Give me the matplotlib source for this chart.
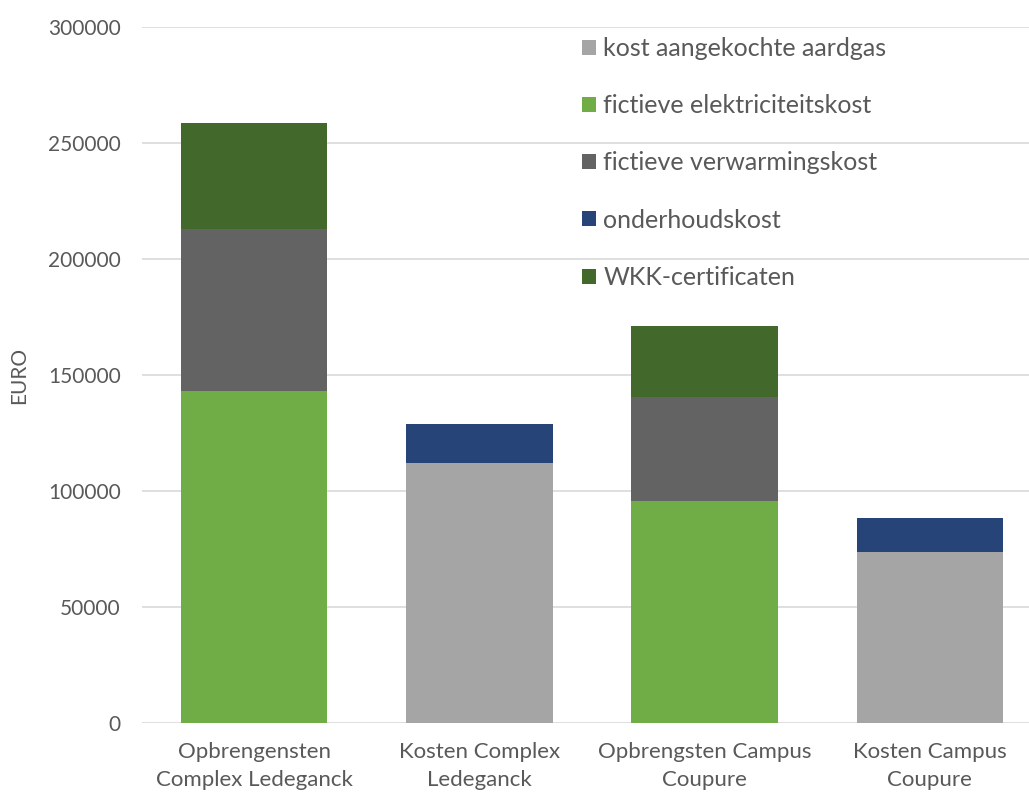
import matplotlib.pyplot as plt
import numpy as np

plt.rcParams['font.family'] = ['Lato', 'DejaVu Sans']

# Data
categories = ['Opbrengensten\nComplex Ledeganck', 'Kosten Complex\nLedeganck',
              'Opbrengsten Campus\nCoupure', 'Kosten Campus\nCoupure']
aardgas = [0, 112000, 0, 73500]
elektriciteit = [143000, 0, 95500, 0]
verwarming = [70000, 0, 45000, 0]
onderhoud = [0, 17000, 0, 15000]
wkk = [45500, 0, 30500, 0]
y_ticks = [0, 50000, 100000, 150000, 200000, 250000, 300000]

series = [
    ('kost aangekochte aardgas', aardgas, '#A5A5A5'),
    ('fictieve elektriciteitskost', elektriciteit, '#70AD47'),
    ('fictieve verwarmingskost', verwarming, '#636363'),
    ('onderhoudskost', onderhoud, '#264478'),
    ('WKK-certificaten', wkk, '#43682B'),
]

txt = '#595959'
fig = plt.figure(figsize=(10.29, 7.94), dpi=100)
ax = fig.add_axes([141.5 / 1029, (794 - 723) / 794, 901 / 1029, 696 / 794])

x = np.arange(len(categories))
bottom = np.zeros(len(categories))
for name, vals, col in series:
    ax.bar(x, vals, 0.65, bottom=bottom, color=col, label=name, zorder=3)
    bottom += np.array(vals)

ax.set_xlim(-0.5, 3.5)
ax.set_ylim(0, 300000)
ax.set_yticks(y_ticks)
ax.set_yticklabels([str(v) for v in y_ticks], fontsize=15, color=txt)
ax.set_xticks(x)
ax.set_xticklabels(categories, fontsize=16, color=txt, linespacing=1.45)
ax.tick_params(length=0)
ax.tick_params(axis='y', pad=15)
ax.tick_params(axis='x', pad=14)
ax.grid(axis='y', color='#D9D9D9', linewidth=1.2, zorder=0)
for s in ax.spines.values():
    s.set_visible(False)
ax.set_ylabel('EURO', fontsize=15, color=txt)
ax.yaxis.set_label_coords(-0.125, 0.5)

leg = ax.legend(loc='upper left', bbox_to_anchor=(0.478, 1.0), frameon=False,
                fontsize=18, labelspacing=1.37, handlelength=0.55, handleheight=0.55,
                handletextpad=0.3, borderaxespad=0)
for t in leg.get_texts():
    t.set_color(txt)

fig.savefig('out.png', dpi=100)
